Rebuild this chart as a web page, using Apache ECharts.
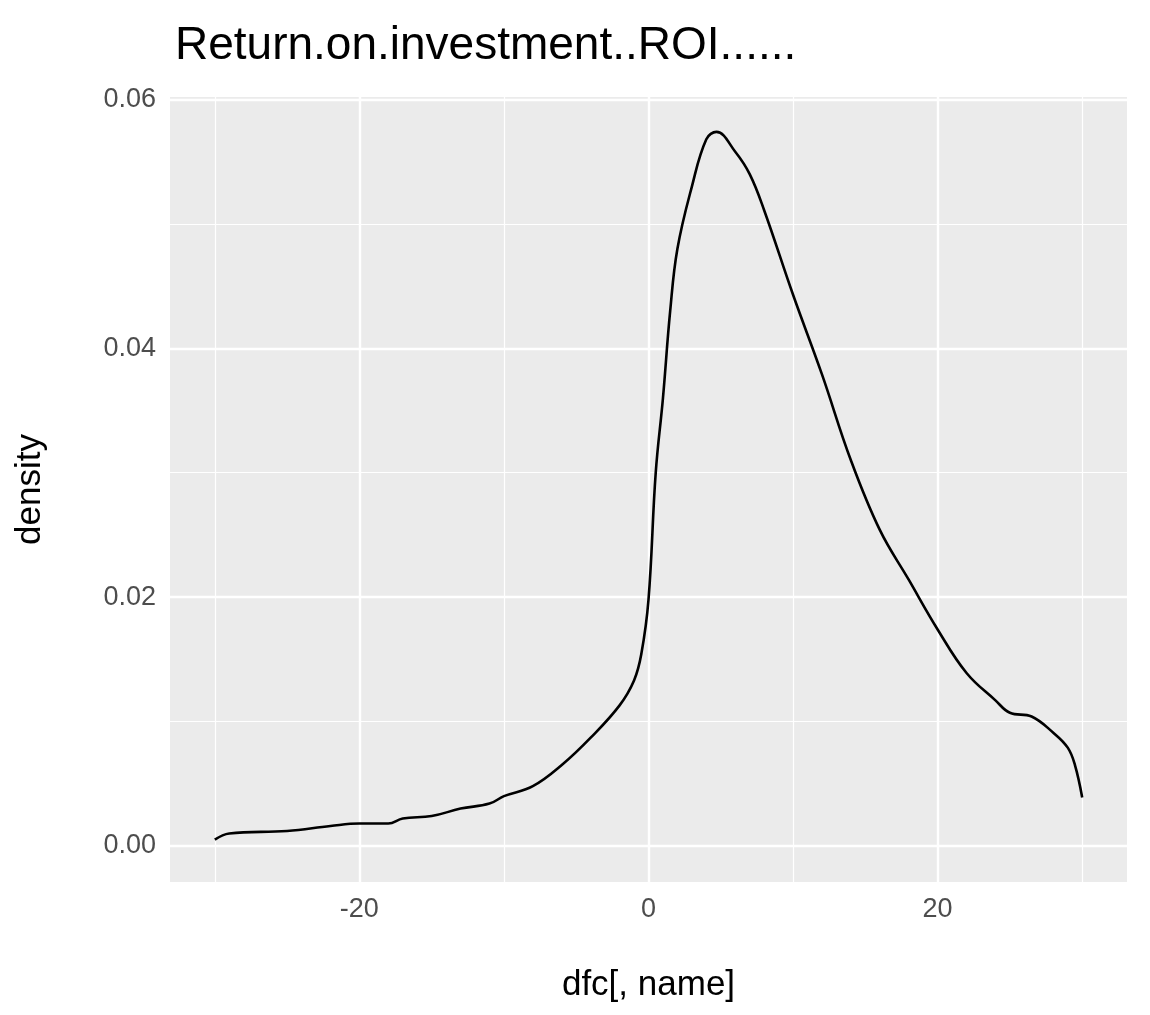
<!DOCTYPE html>
<html><head><meta charset="utf-8">
<script src="https://cdn.jsdelivr.net/npm/echarts@6/dist/echarts.min.js"></script>
<style>body{margin:0}#c{width:1150px;height:1015px}</style></head>
<body><div id="c"></div>
<script>
const xs = [-30,-29,-25,-22,-20,-18,-17,-15,-13,-11,-10,-8,-6,-4,-2,-1,-0.5,0,0.5,1,1.5,2,3,4,4.7,6,7,8,10,12,14,16,18,20,22,24,25,26.5,28,29,29.5,30];
const ys = [0.0005,0.001,0.0012,0.0016,0.0018,0.0018,0.0022,0.0024,0.003,0.0034,0.004,0.0048,0.0065,0.0087,0.0113,0.0133,0.0154,0.0198,0.030,0.036,0.043,0.048,0.053,0.0568,0.0574,0.0558,0.054,0.0511,0.0443,0.0379,0.031,0.0254,0.0214,0.0174,0.0139,0.0117,0.0107,0.0104,0.0091,0.0079,0.0065,0.0039];
const xMajor = [-20,0,20], xMinor = [-30,-10,10,30];
const yMajor = [0,0.02,0.04,0.06], yMinor = [0.01,0.03,0.05];
const ax = {fontSize:27,color:'#4d4d4d',fontFamily:'Liberation Sans'};
const gl = (v,isX,w)=>({[isX?'xAxis':'yAxis']:v,lineStyle:{color:'#fff',width:w,type:'solid'}});
const chart = echarts.init(document.getElementById('c'));
chart.setOption({
  animation:false,
  backgroundColor:'#fff',
  title:{text:'Return.on.investment..ROI......',left:170,top:18,textStyle:{fontSize:46,fontWeight:'normal',color:'#000',fontFamily:'Liberation Sans'}},
  grid:{left:170,right:23,top:97,bottom:133,backgroundColor:'#ebebeb',show:true,borderWidth:0},
  xAxis:{type:'value',min:-33.1,max:33.1,splitLine:{show:false},axisLine:{show:false},
    axisTick:{show:true,length:7,customValues:xMajor,lineStyle:{color:'#333',width:2}},
    axisLabel:{...ax,customValues:xMajor,margin:14},
    name:'dfc[, name]',nameLocation:'middle',nameGap:86,nameTextStyle:{fontSize:35,color:'#000',fontFamily:'Liberation Sans'}},
  yAxis:{type:'value',min:-0.0029,max:0.0602,splitLine:{show:false},axisLine:{show:false},
    axisTick:{show:true,length:7,customValues:yMajor,lineStyle:{color:'#333',width:2}},
    axisLabel:{...ax,customValues:yMajor,margin:14,formatter:v=>v.toFixed(2)},
    name:'density',nameLocation:'middle',nameGap:122,nameTextStyle:{fontSize:35,color:'#000',fontFamily:'Liberation Sans'}},
  series:[
    {type:'line',data:[],z:1,silent:true,markLine:{silent:true,symbol:'none',label:{show:false},
      data:[...xMinor.map(v=>gl(v,true,1.2)),...yMinor.map(v=>gl(v,false,1.2)),...xMajor.map(v=>gl(v,true,2.4)),...yMajor.map(v=>gl(v,false,2.4))]}},
    {type:'line',z:5,data:xs.map((x,i)=>[x,ys[i]]),smooth:0.4,showSymbol:false,lineStyle:{color:'#000',width:2.6}}
  ]
});
</script></body></html>
